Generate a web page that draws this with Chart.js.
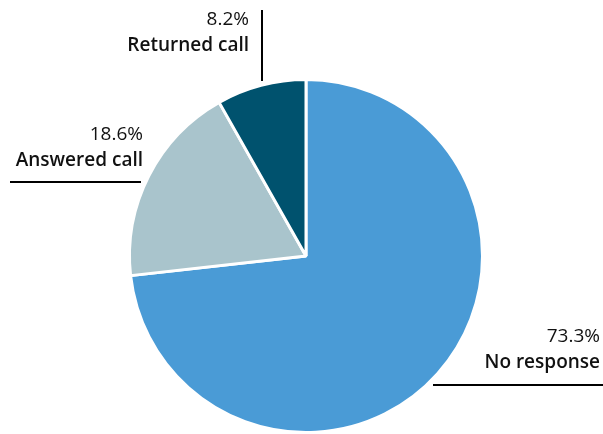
<!DOCTYPE html>
<html>
<head>
<meta charset="utf-8">
<script src="https://cdn.jsdelivr.net/npm/chart.js@4"></script>
<style>
  html, body { margin: 0; padding: 0; background: #fff; }
  #wrap { width: 603px; height: 434px; }
</style>
</head>
<body>
<div id="wrap"><canvas id="call_chart"></canvas></div>
<script>
const labels = ['No response', 'Answered call', 'Returned call'];
const shares = [73.3, 18.6, 8.2];
const colors = ['#4a9bd6', '#a9c4cc', '#00526e'];

// callout text + leader line for each slice
const callouts = [
    { x: 600, y: 342, line: [[433, 385], [603, 385]] },
    { x: 143, y: 140, line: [[10, 182], [141, 182]] },
    { x: 249, y: 25,  line: [[262, 10], [262, 81]] }
];

const calloutPlugin = {
    id: 'callouts',
    afterDraw(chart) {
        const ctx = chart.ctx;
        ctx.save();
        ctx.strokeStyle = '#000';
        ctx.lineWidth = 2;
        ctx.fillStyle = '#111';
        ctx.textAlign = 'right';
        ctx.textBaseline = 'alphabetic';
        callouts.forEach((c, i) => {
            ctx.beginPath();
            ctx.moveTo(c.line[0][0], c.line[0][1]);
            ctx.lineTo(c.line[1][0], c.line[1][1]);
            ctx.stroke();
            ctx.font = '19px "Open Sans"';
            ctx.fillText(shares[i].toFixed(1) + '%', c.x, c.y);
            ctx.font = '600 19px "Open Sans"';
            ctx.fillText(labels[i], c.x, c.y + 26);
        });
        ctx.restore();
    }
};

var ctx = document.getElementById('call_chart').getContext('2d');
var callChart = new Chart(ctx, {
    type: 'pie',
    data: {
        labels: labels,
        datasets: [{
            data: shares,
            backgroundColor: colors,
            borderColor: '#fff',
            borderWidth: 3
        }]
    },
    options: {
        responsive: true,
        maintainAspectRatio: false,
        animation: false,
        layout: {
            padding: { left: 127, right: 118, top: 78, bottom: 0 }
        },
        plugins: {
            legend: { display: false },
            tooltip: { enabled: false }
        }
    },
    plugins: [calloutPlugin]
});
</script>
</body>
</html>
